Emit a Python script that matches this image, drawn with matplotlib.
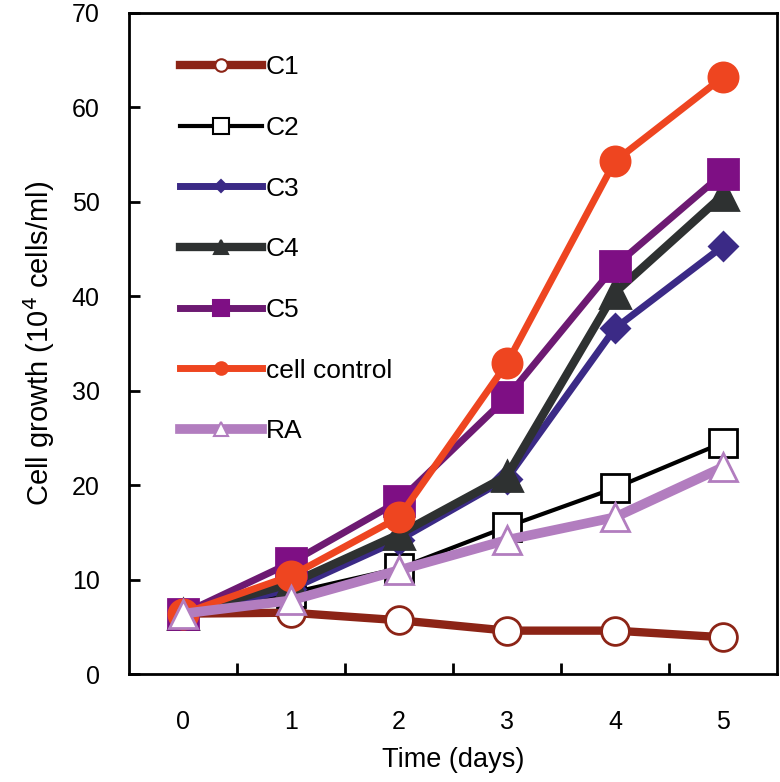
import matplotlib
matplotlib.use("Agg")
from matplotlib import pyplot as plt
from matplotlib.lines import Line2D

plt.rcParams['font.family'] = ['Liberation Sans', 'DejaVu Sans']

# Data
days = [0, 1, 2, 3, 4, 5]
day_labels = ['0', '1', '2', '3', '4', '5']
c1 = [6.4, 6.5, 5.7, 4.6, 4.6, 3.9]
c2 = [6.4, 8.6, 11.2, 15.6, 19.7, 24.5]
c3 = [6.4, 9.0, 14.2, 20.7, 36.6, 45.3]
c4 = [6.4, 9.6, 14.8, 21.0, 40.4, 50.7]
c5 = [6.4, 11.8, 18.3, 29.3, 43.2, 53.0]
cell_control = [6.4, 10.4, 16.6, 32.9, 54.3, 63.2]
ra = [6.4, 7.8, 11.0, 14.2, 16.6, 21.9]

series = [
    # label, values, line colour, lw, marker, ms, face, edge, legend ms
    ('C1', c1, '#8c2416', 6.0, 'o', 20, 'white', '#8c2416', 9),
    ('C2', c2, 'black', 3.0, 's', 20, 'white', 'black', 12),
    ('C3', c3, '#3b2a86', 5.0, 'D', 14, '#3b2a86', '#3b2a86', 6),
    ('C4', c4, '#2e3131', 6.0, '^', 21, '#2e3131', '#2e3131', 10),
    ('C5', c5, '#6d1a72', 5.0, 's', 21, '#7e0f84', '#7e0f84', 12),
    ('cell control', cell_control, '#ee4520', 5.0, 'o', 21, '#ee4520', '#ee4520', 9),
    ('RA', ra, '#b27dbf', 7.0, '^', 20, 'white', '#b27dbf', 10),
]

fig = plt.figure(figsize=(7.80, 7.82), dpi=100)
ax = fig.add_axes([0.1654, 0.138, 0.8306, 0.8454])

handles = []
for i, (name, vals, col, lw, mk, ms, fc, ec, lms) in enumerate(series):
    ax.plot(days, vals, color=col, lw=lw, marker=mk, markersize=ms,
            markerfacecolor=fc, markeredgecolor=ec, markeredgewidth=2,
            zorder=3 + i)
    handles.append(Line2D([], [], color=col, lw=lw, marker=mk, markersize=lms,
                          markerfacecolor=fc, markeredgecolor=ec,
                          markeredgewidth=1.5))

ax.set_xlim(-0.5, 5.5)
ax.set_ylim(0, 70)
ax.set_xticks(days)
ax.set_xticklabels(day_labels)
ax.set_xticks([0.5, 1.5, 2.5, 3.5, 4.5], minor=True)
ax.tick_params(axis='x', which='major', length=0, pad=26, labelsize=18)
ax.tick_params(axis='x', which='minor', direction='in', length=8, width=2)
ax.set_yticks(range(0, 71, 10))
ax.tick_params(axis='y', direction='in', length=8, width=2, pad=21, labelsize=18)
for s in ax.spines.values():
    s.set_linewidth(2)

ax.set_xlabel('Time (days)', fontsize=19.5, labelpad=9)
ax.set_ylabel('Cell growth (10$^4$ cells/ml)', fontsize=21, labelpad=11)

ax.legend(handles, [s[0] for s in series], loc='upper left', frameon=False,
          fontsize=19, handlelength=3.1, handletextpad=0.15, labelspacing=1.39,
          bbox_to_anchor=(0.042, 0.972))

fig.savefig('out.png', dpi=100)
